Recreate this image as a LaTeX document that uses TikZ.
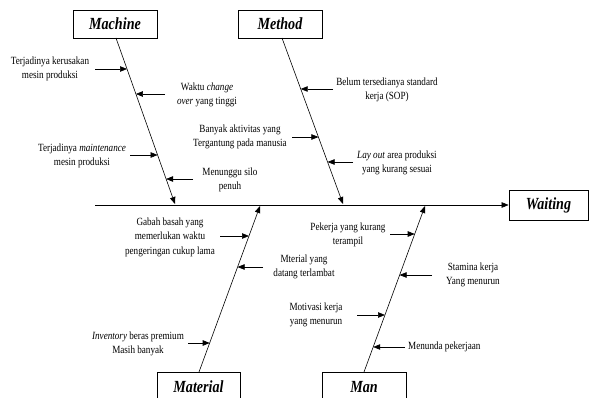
\documentclass[tikz,border=0pt]{standalone}
\usepackage{fontspec}
\setmainfont{Liberation Serif}
\newfontfamily\lblfont[FakeStretch=0.83]{Liberation Serif}
\usetikzlibrary{arrows.meta}
\begin{document}
\begin{tikzpicture}[x=1pt,y=-1pt,
  catbox/.style={draw,line width=0.8pt,minimum width=84pt,minimum height=28pt,inner sep=0pt,
    font=\lblfont\fontsize{17}{19}\selectfont\bfseries\itshape},
  cause/.style={align=center,inner sep=0pt,font=\lblfont\fontsize{11}{14.5}\selectfont},
  bone/.style={line width=0.6pt,-{Triangle[length=7pt,width=5.5pt]}},
  twig/.style={line width=0.6pt,-{Triangle[length=7pt,width=5.5pt]}}]
\useasboundingbox (0,0) rectangle (592,398);
\clip (0,0) rectangle (592,398);

% category boxes
\node[catbox] (machine) at (115,24) {Machine};
\node[catbox] (method) at (280,24) {Method};
\node[catbox,minimum width=83pt,minimum height=30pt] (material) at (198.5,387) {Material};
\node[catbox,minimum height=30pt] (man) at (364,387) {Man};
\node[catbox,minimum width=79pt,minimum height=30pt] (waiting) at (548.5,205) {Waiting};

% spine and main bones
\coordinate (tail) at (95,205);
\coordinate (mcTip) at (175,204);
\coordinate (mtTip) at (343,204);
\coordinate (maTip) at (260,206);
\coordinate (mnTip) at (425,206);
\coordinate (mcTop) at (116,38);
\coordinate (mtTop) at (282,38);
\coordinate (maBot) at (199,372);
\coordinate (mnBot) at (364,372);
\draw[bone] (tail) -- (waiting.west);
\draw[bone] (mcTop) -- (mcTip);
\draw[bone] (mtTop) -- (mtTip);
\draw[bone] (maBot) -- (maTip);
\draw[bone] (mnBot) -- (mnTip);

% Machine causes
\node[cause] (c1) at (50,69) {Terjadinya kerusakan\\mesin produksi};
\node[cause] (c2) at (207,95) {Waktu \textit{change}\\\textit{over} yang tinggi};
\node[cause] (c3) at (82,156) {Terjadinya \textit{maintenance}\\mesin produksi};
\node[cause] (c4) at (230,180) {Menunggu silo\\penuh};
\coordinate (a1) at (95,69);   \coordinate (b1) at (127,69);
\coordinate (a2) at (165,94);  \coordinate (b2) at (135.9,94);
\coordinate (a3) at (130,155); \coordinate (b3) at (157.6,155);
\coordinate (a4) at (193,179); \coordinate (b4) at (166.1,179);
\draw[twig] (a1) -- (b1);
\draw[twig] (a2) -- (b2);
\draw[twig] (a3) -- (b3);
\draw[twig] (a4) -- (b4);

% Method causes
\node[cause] (c5) at (387,90) {Belum tersedianya standard\\kerja (SOP)};
\node[cause] (c6) at (240,137) {Banyak aktivitas yang\\Tergantung pada manusia};
\node[cause] (c7) at (397,163) {\textit{Lay out} area produksi\\yang kurang sesuai};
\coordinate (a5) at (333,89);  \coordinate (b5) at (300.7,89);
\coordinate (a6) at (292,137); \coordinate (b6) at (318.4,137);
\coordinate (a7) at (353,162); \coordinate (b7) at (327.6,162);
\draw[twig] (a5) -- (b5);
\draw[twig] (a6) -- (b6);
\draw[twig] (a7) -- (b7);

% Material causes
\node[cause] (c8) at (170,237) {Gabah basah yang\\memerlukan waktu\\pengeringan cukup lama};
\node[cause] (c9) at (304,267) {Mterial yang\\datang terlambat};
\node[cause] (c10) at (138,344) {\textit{Inventory} beras premium\\Masih banyak};
\coordinate (a8) at (220,236);  \coordinate (b8) at (249,236);
\coordinate (a9) at (263,267);  \coordinate (b9) at (237.6,267);
\coordinate (a10) at (188,343); \coordinate (b10) at (209.7,343);
\draw[twig] (a8) -- (b8);
\draw[twig] (a9) -- (b9);
\draw[twig] (a10) -- (b10);

% Man causes
\node[cause] (c11) at (348,235) {Pekerja yang kurang\\terampil};
\node[cause] (c12) at (473,275) {Stamina kerja\\Yang menurun};
\node[cause] (c13) at (316,315) {Motivasi kerja\\yang menurun};
\node[cause,anchor=west] (c14) at (408,347) {Menunda pekerjaan};
\coordinate (a11) at (390,234); \coordinate (b11) at (414.7,234);
\coordinate (a12) at (432,275); \coordinate (b12) at (399.6,275);
\coordinate (a13) at (357,315); \coordinate (b13) at (385,315);
\coordinate (a14) at (405,347); \coordinate (b14) at (373.2,347);
\draw[twig] (a11) -- (b11);
\draw[twig] (a12) -- (b12);
\draw[twig] (a13) -- (b13);
\draw[twig] (a14) -- (b14);
\end{tikzpicture}
\end{document}
